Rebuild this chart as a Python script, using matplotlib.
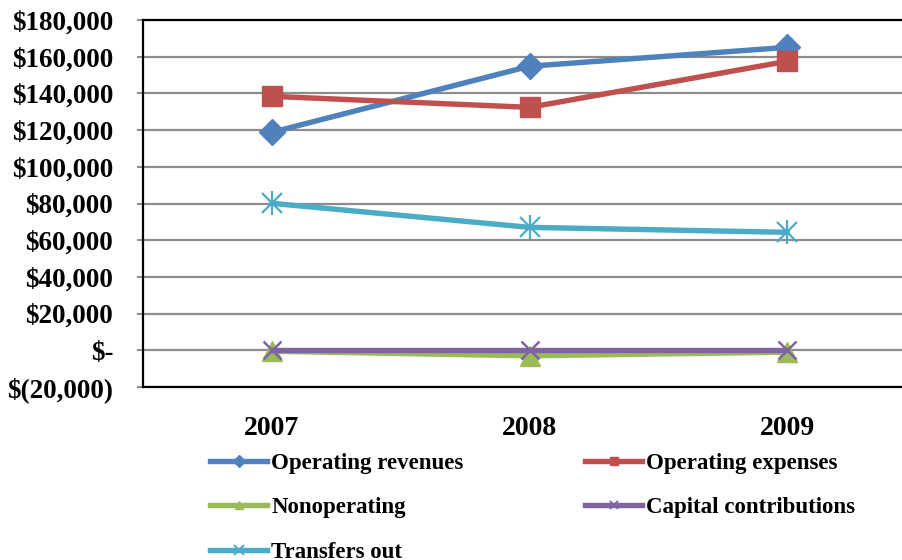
import matplotlib
matplotlib.use("Agg")
import matplotlib.pyplot as plt
from matplotlib.lines import Line2D
from matplotlib.ticker import FuncFormatter, MultipleLocator

years = ["2007", "2008", "2009"]
operating_revenues = [118800, 154800, 165100]
operating_expenses = [138400, 132400, 157500]
nonoperating = [-500, -3000, -1000]
capital_contributions = [0, 0, 0]
transfers_out = [80100, 67000, 64300]

series = [
    ("Operating revenues", operating_revenues, "#4F81BD", "D", 13),
    ("Operating expenses", operating_expenses, "#C0504D", "s", 14),
    ("Nonoperating", nonoperating, "#9BBB59", "^", 15),
    ("Capital contributions", capital_contributions, "#8064A2", "x", 13),
    ("Transfers out", transfers_out, "#4BACC6", "x", 14),
]

plt.rcParams['font.family'] = ['Liberation Serif', 'DejaVu Serif']
plt.rcParams['font.weight'] = 'bold'

W, H = 902, 560
fig = plt.figure(figsize=(W / 100, H / 100), dpi=100)
ax = fig.add_axes([143 / W, (H - 387) / H, (916 - 143) / W, (387 - 20) / H])

x = list(range(len(years)))
handles = {}
for name, vals, color, marker, ms in series:
    if name == "Transfers out":
        ax.plot(x, vals, color=color, lw=3.9, zorder=3)
        ax.plot(x, vals, ls="none", marker="x", color=color, ms=ms, mew=1.6, zorder=4)
        ax.plot(x, vals, ls="none", marker="|", color=color, ms=ms + 3, mew=1.6, zorder=4)
        hnd = Line2D([], [], color=color, lw=3.9, marker="x", ms=7, mew=1.4)
    elif name == "Capital contributions":
        ax.plot(x, vals, color=color, lw=3.9, marker=marker, ms=ms, mew=1.8, zorder=4)
        hnd = Line2D([], [], color=color, lw=3.9, marker="x", ms=6, mew=1.4)
    else:
        ax.plot(x, vals, color=color, lw=3.9, marker=marker, ms=ms, mec=color, zorder=3)
        hnd = Line2D([], [], color=color, lw=3.9, marker=marker, ms=6, mec=color)
    handles[name] = hnd

ax.set_xlim(-0.5, 2.5)
ax.set_ylim(-20000, 180000)
ax.set_xticks(x)
ax.set_xticklabels(years)
ax.yaxis.set_major_locator(MultipleLocator(20000))


def fmt(v, pos):
    if abs(v) < 1:
        return "$-"
    if v < 0:
        return "$({:,.0f})".format(-v)
    return "${:,.0f}".format(v)


ax.yaxis.set_major_formatter(FuncFormatter(fmt))
ax.grid(axis="y", color="#8c8c8c", lw=1.6, zorder=1)
ax.set_axisbelow(True)
for s in ["top", "bottom", "left"]:
    ax.spines[s].set_color("black")
    ax.spines[s].set_linewidth(1.6)
ax.spines["right"].set_visible(False)

ax.tick_params(axis="y", length=4.5, width=1.4, color="#8c8c8c", pad=17, labelsize=19.5)
ax.tick_params(axis="x", length=0, pad=21, labelsize=20)
for lab in ax.get_yticklabels() + ax.get_xticklabels():
    lab.set_fontweight("bold")

order = ["Operating revenues", "Nonoperating", "Transfers out",
         "Operating expenses", "Capital contributions"]
leg = fig.legend([handles[n] for n in order], order, ncol=2, frameon=False,
                 loc="upper left", bbox_to_anchor=(210 / W, 1 - 453 / H),
                 borderpad=0, borderaxespad=0, handlelength=2.5, handletextpad=0.17,
                 columnspacing=5.3, labelspacing=1.02,
                 prop={"family": "Liberation Serif", "weight": "bold", "size": 16.5})

fig.savefig("out.png", dpi=100)
